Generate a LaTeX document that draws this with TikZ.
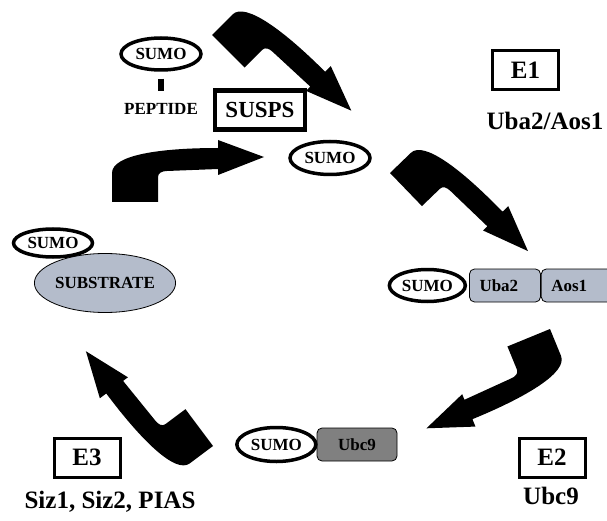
\documentclass[tikz,border=0pt]{standalone}
\usepackage{fontspec}
\setmainfont{Liberation Serif}
\usetikzlibrary{shapes.geometric,positioning}

\definecolor{steel}{RGB}{180,188,203}
\definecolor{darkgr}{RGB}{128,128,128}
\newcommand{\bigfont}{\fontsize{25}{25}\selectfont\bfseries}
\newcommand{\smfont}{\fontsize{17}{17}\selectfont\bfseries}

\tikzset{
  bentarrow/.pic={
    \fill (0,0) -- (46,0) -- (46,-25) .. controls (46,-29) and (50,-31) .. (55,-31)
      -- (106,-33) -- (106,-27) -- (152,-45) -- (106,-62) -- (106,-54)
      .. controls (48,-54) and (0,-47) .. (0,-29) -- cycle;
  }
}

\begin{document}
\begin{tikzpicture}[x=1pt,y=-1pt,
    sumo/.style = {ellipse, draw, line width=3.5pt, fill=white, inner sep=0pt, font=\smfont},
    enzyme/.style = {draw, rounded corners=5pt, line width=0.8pt, minimum height=33pt, inner ysep=0pt, font=\smfont},
    ebox/.style = {draw, line width=3pt, minimum width=66pt, minimum height=39pt, font=\bigfont},
    txt/.style = {inner sep=1pt}]
    \useasboundingbox (0,0) rectangle (607,521);
    % free SUMO and the protease
    \node[sumo, minimum width=80pt, minimum height=32pt] (sumoA) at (161,54) {SUMO};
    \node[txt, font=\smfont] (peptide) at (161,109) {PEPTIDE};
    \draw[line width=6pt, shorten <=7pt, shorten >=11pt] (sumoA.south) -- (peptide.north);
    \node[draw, line width=4.5pt, minimum width=90pt, minimum height=39pt, font=\fontsize{23}{23}\selectfont\bfseries] (susps) at (260,110) {SUSPS};
    \node[sumo, minimum width=80pt, minimum height=33pt] (sumoB) at (330,158) {SUMO};
    % E1
    \node[ebox] (e1) at (525.5,70) {E1};
    \node[txt, font=\bigfont] (e1name) at (545,121) {Uba2/Aos1};
    \node[enzyme, fill=steel, text width=51pt, inner xsep=10pt, align=left] (uba) at (505,285.5) {Uba2};
    \node[enzyme, fill=steel, text width=52pt, inner xsep=10pt, align=left, right=0pt of uba] (aos) {Aos1};
    \node[sumo, minimum width=76pt, minimum height=32pt, left=2pt of uba] (sumoC) {SUMO};
    % E2
    \node[enzyme, fill=darkgr, minimum width=80pt] (ubc) at (357,444.5) {Ubc9};
    \node[sumo, minimum width=79pt, minimum height=34pt, left=-1pt of ubc] (sumoD) {SUMO};
    \node[ebox] (e2) at (552,457.5) {E2};
    \node[txt, font=\bigfont] (e2name) at (551,496) {Ubc9};
    % E3 and substrate
    \node[ebox] (e3) at (87,457.5) {E3};
    \node[txt, font=\bigfont] (e3name) at (110,502) {Siz1, Siz2, PIAS};
    \node[ellipse, draw, fill=steel, line width=0.8pt, minimum width=110pt, minimum height=59pt, inner sep=0pt, font=\smfont] (subst) at (105,283) {SUBSTRATE};
    \node[sumo, minimum width=79pt, minimum height=28pt] (sumoE) at (53,243) {SUMO};
    % cycle arrows
    \pic[rotate=-45] at (212,35) {bentarrow};
    \pic[rotate=-46] at (390,173) {bentarrow};
    \pic[rotate=-157.7] at (550,329) {bentarrow};
    \pic[rotate=126.8] at (213,446) {bentarrow};
    \pic at (112,202) {bentarrow};
\end{tikzpicture}
\end{document}
